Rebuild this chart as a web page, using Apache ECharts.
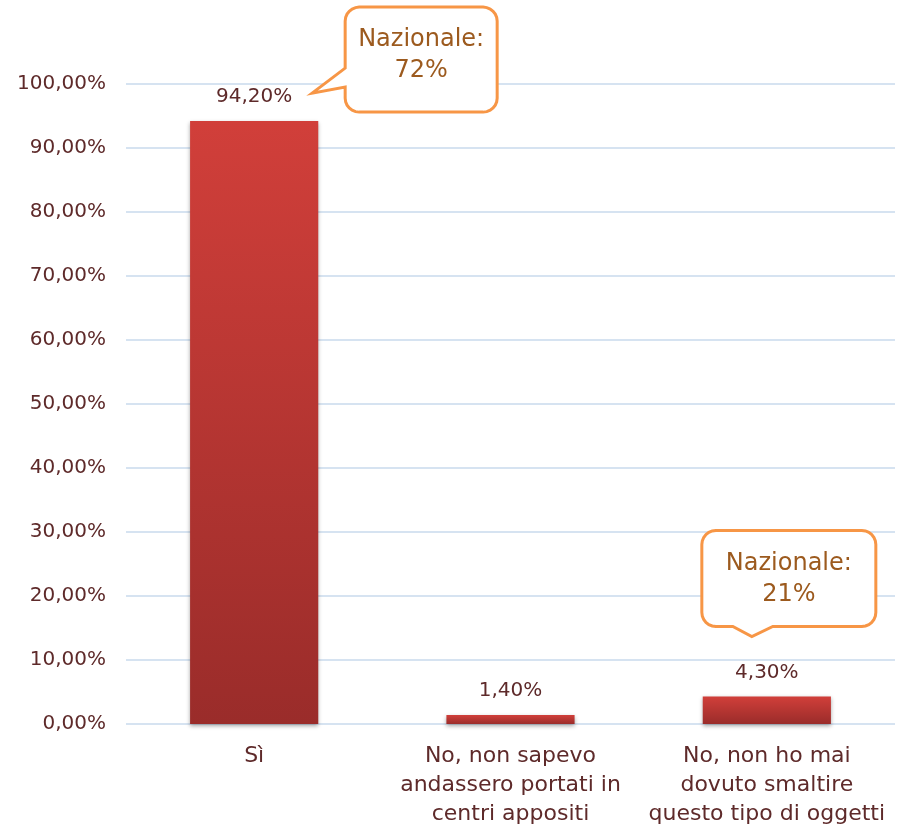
<!DOCTYPE html>
<html>
<head>
<meta charset="utf-8">
<script src="https://cdn.jsdelivr.net/npm/echarts@6/dist/echarts.min.js"></script>
<style>
  html, body { margin: 0; padding: 0; background: #fff; }
  #chart { width: 897px; height: 829px; }
</style>
</head>
<body>
<div id="chart"></div>
<script>
// dati
var categories = ['Sì', 'No, non sapevo\nandassero portati in\ncentri appositi', 'No, non ho mai\ndovuto smaltire\nquesto tipo di oggetti'];
var values = [94.2, 1.4, 4.3];
var nazionale = [72, null, 21];   // valori nazionali nei fumetti
var yTicks = [0, 10, 20, 30, 40, 50, 60, 70, 80, 90, 100];

var FONT = 'DejaVu Sans';
var pct = function (v) { return v.toFixed(2).replace('.', ',') + '%'; };

var chart = echarts.init(document.getElementById('chart'));

chart.setOption({
  animation: false,
  grid: { left: 126, right: 2, top: 84, bottom: 103 },
  xAxis: {
    type: 'category',
    data: categories,
    axisLine: { show: false },
    axisTick: { show: false },
    axisLabel: { color: '#5E2A2A', fontFamily: FONT, fontSize: 22, lineHeight: 29, margin: 18, interval: 0 }
  },
  yAxis: {
    type: 'value',
    min: yTicks[0],
    max: yTicks[yTicks.length - 1],
    interval: 10,
    axisLine: { show: false },
    axisTick: { show: false },
    splitLine: { lineStyle: { color: '#D6E3F1', width: 2 } },
    axisLabel: { color: '#5E2A2A', fontFamily: FONT, fontSize: 20, margin: 20, formatter: pct }
  },
  series: [{
    type: 'bar',
    data: values,
    barWidth: '50%',
    itemStyle: {
      color: new echarts.graphic.LinearGradient(0, 0, 0, 1, [
        { offset: 0, color: '#D13F3A' },
        { offset: 1, color: '#9A2C2A' }
      ]),
      shadowColor: 'rgba(0,0,0,0.35)',
      shadowBlur: 4,
      shadowOffsetY: 2
    },
    label: {
      show: true,
      position: 'top',
      distance: 14,
      color: '#5E2A2A',
      fontFamily: FONT,
      fontSize: 20,
      formatter: function (p) { return pct(p.value); }
    }
  }]
});

// fumetti "Nazionale"
function arc(pts, cx, cy, r, a0, a1) {
  for (var i = 0; i <= 6; i++) {
    var a = a0 + (a1 - a0) * i / 6;
    pts.push([cx + r * Math.cos(a), cy + r * Math.sin(a)]);
  }
}
function bubble(x, y, w, h, r, ptr) {
  var P = Math.PI, pts = [];
  arc(pts, x + r, y + r, r, P, 1.5 * P);              // top-left
  arc(pts, x + w - r, y + r, r, 1.5 * P, 2 * P);      // top-right
  arc(pts, x + w - r, y + h - r, r, 0, 0.5 * P);      // bottom-right
  if (ptr.side === 'bottom') {
    pts.push([ptr.b, y + h], [ptr.tx, ptr.ty], [ptr.a, y + h]);
  }
  arc(pts, x + r, y + h - r, r, 0.5 * P, P);          // bottom-left
  if (ptr.side === 'left') {
    pts.push([x, ptr.b], [ptr.tx, ptr.ty], [x, ptr.a]);
  }
  return pts;
}

var graphics = [];
var p0 = chart.convertToPixel({ seriesIndex: 0 }, [0, values[0]]);
var b1 = { x: p0[0] + 91, y: p0[1] - 114, w: 152, h: 105 };
graphics.push({
  type: 'polygon', z: 10,
  shape: { points: bubble(b1.x, b1.y, b1.w, b1.h, 14, { side: 'left', a: b1.y + 61, b: b1.y + 80, tx: p0[0] + 58, ty: p0[1] - 28 }) },
  style: { fill: '#fff', stroke: '#F79646', lineWidth: 3 }
});
graphics.push({
  type: 'text', z: 11, x: b1.x + b1.w / 2, y: b1.y + b1.h / 2 - 4,
  style: { text: 'Nazionale:\n' + nazionale[0] + '%', fill: '#9C5A1E', font: '24px ' + FONT, align: 'center', verticalAlign: 'middle', lineHeight: 31 }
});

var p2 = chart.convertToPixel({ seriesIndex: 0 }, [2, values[2]]);
var b2 = { x: p2[0] - 65, y: p2[1] - 166, w: 174, h: 96 };
graphics.push({
  type: 'polygon', z: 10,
  shape: { points: bubble(b2.x, b2.y, b2.w, b2.h, 14, { side: 'bottom', a: p2[0] - 34, b: p2[0] + 6, tx: p2[0] - 15, ty: p2[1] - 60 }) },
  style: { fill: '#fff', stroke: '#F79646', lineWidth: 3 }
});
graphics.push({
  type: 'text', z: 11, x: b2.x + b2.w / 2, y: b2.y + b2.h / 2 + 1,
  style: { text: 'Nazionale:\n' + nazionale[2] + '%', fill: '#9C5A1E', font: '24px ' + FONT, align: 'center', verticalAlign: 'middle', lineHeight: 31 }
});

chart.setOption({ graphic: graphics });
</script>
</body>
</html>
